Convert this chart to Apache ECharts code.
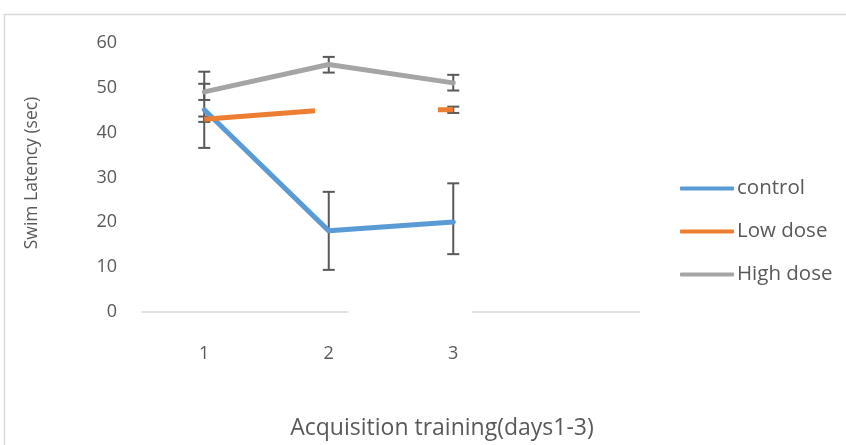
<!DOCTYPE html>
<html>
<head>
<meta charset="utf-8">
<script src="https://cdn.jsdelivr.net/npm/echarts@6/dist/echarts.min.js"></script>
<style>
  html, body { margin: 0; padding: 0; background: #fff; }
  #chart { width: 846px; height: 445px; }
</style>
</head>
<body>
<div id="chart"></div>
<script>
// Training days (fourth slot left empty, as in the workbook layout)
const days = ['1', '2', '3', ''];
const yTicks = [0, 10, 20, 30, 40, 50, 60];

// Mean swim latency (sec)
const controlMean = [45.1, 18.1, 20.1];
const lowDoseMean = [43.0, 45.1, 45.1];
const highDoseMean = [49.1, 55.2, 51.1];

// Error bar ends (low, high); null where no bar is shown
const controlLow = [36.6, 9.4, 12.9];
const controlHigh = [53.6, 26.8, 28.7];
const lowDoseLow = [42.4, null, 44.4];
const lowDoseHigh = [43.6, null, 45.8];
const highDoseLow = [47.3, 53.4, 49.4];
const highDoseHigh = [50.9, 56.9, 52.9];

const seriesNames = ['control', 'Low dose', 'High dose'];
const colors = ['#5B9BD5', '#ED7D31', '#A5A5A5'];
const FONT = '"Open Sans", sans-serif';

function errorRows(low, high) {
  const rows = [];
  low.forEach((l, i) => {
    if (l !== null && high[i] !== null) rows.push([i, l, high[i]]);
  });
  return rows;
}

function renderErrorBar(params, api) {
  const x = api.value(0);
  const lo = api.coord([x, api.value(1)]);
  const hi = api.coord([x, api.value(2)]);
  const half = 6;
  const style = { stroke: '#595959', lineWidth: 2 };
  return {
    type: 'group',
    children: [
      { type: 'line', shape: { x1: lo[0], y1: hi[1], x2: lo[0], y2: lo[1] }, style },
      { type: 'line', shape: { x1: lo[0] - half, y1: hi[1], x2: lo[0] + half, y2: hi[1] }, style },
      { type: 'line', shape: { x1: lo[0] - half, y1: lo[1], x2: lo[0] + half, y2: lo[1] }, style }
    ]
  };
}

const chart = echarts.init(document.getElementById('chart'), null, { renderer: 'canvas' });

const lineSeries = [controlMean, lowDoseMean, highDoseMean].map((d, i) => ({
  name: seriesNames[i],
  type: 'line',
  data: d,
  symbol: 'none',
  z: 3,
  lineStyle: {
    color: colors[i],
    width: 5,
    cap: i === 1 ? 'butt' : 'round',
    join: 'round',
    type: i === 1 ? [111, 123] : 'solid'
  },
  itemStyle: { color: colors[i] },
  emphasis: { disabled: true }
}));

const errSeries = [
  [controlLow, controlHigh],
  [lowDoseLow, lowDoseHigh],
  [highDoseLow, highDoseHigh]
].map(([lo, hi]) => ({
  type: 'custom',
  renderItem: renderErrorBar,
  data: errorRows(lo, hi),
  z: 2,
  silent: true
}));

chart.setOption({
  animation: false,
  textStyle: { fontFamily: FONT },
  grid: { left: 142, right: 206, top: 43, bottom: 133, containLabel: false },
  xAxis: {
    type: 'category',
    data: days,
    boundaryGap: true,
    axisLine: { lineStyle: { color: '#D9D9D9', width: 1.5, type: [206, 124, 200] } },
    axisTick: { show: false },
    axisLabel: { color: '#595959', fontSize: 18, margin: 33, fontFamily: FONT }
  },
  yAxis: {
    type: 'value',
    min: yTicks[0],
    max: yTicks[yTicks.length - 1],
    interval: 10,
    axisLine: { show: false },
    axisTick: { show: false },
    splitLine: { show: false },
    axisLabel: { color: '#595959', fontSize: 18, margin: 25, fontFamily: FONT }
  },
  legend: {
    orient: 'vertical',
    left: 675,
    top: 173,
    itemWidth: 54,
    itemHeight: 4,
    itemGap: 22,
    icon: 'roundRect',
    data: seriesNames,
    textStyle: { color: '#595959', fontSize: 20.5, fontFamily: FONT, padding: [0, 0, 0, -2] }
  },
  graphic: [
    {
      type: 'rect',
      shape: { x: 4.5, y: 14.5, width: 900, height: 500 },
      style: { fill: 'none', stroke: '#D9D9D9', lineWidth: 1.5 },
      silent: true,
      z: -1
    },
    {
      type: 'text',
      x: 32, y: 173,
      rotation: Math.PI / 2,
      style: {
        text: 'Swim Latency (sec)',
        fill: '#595959',
        font: '17.5px ' + FONT,
        align: 'center',
        verticalAlign: 'middle'
      }
    },
    {
      type: 'text',
      x: 442, y: 428,
      style: {
        text: 'Acquisition training(days1-3)',
        fill: '#595959',
        font: '23px ' + FONT,
        align: 'center',
        verticalAlign: 'middle'
      }
    }
  ],
  series: [...errSeries, ...lineSeries]
});
</script>
</body>
</html>
